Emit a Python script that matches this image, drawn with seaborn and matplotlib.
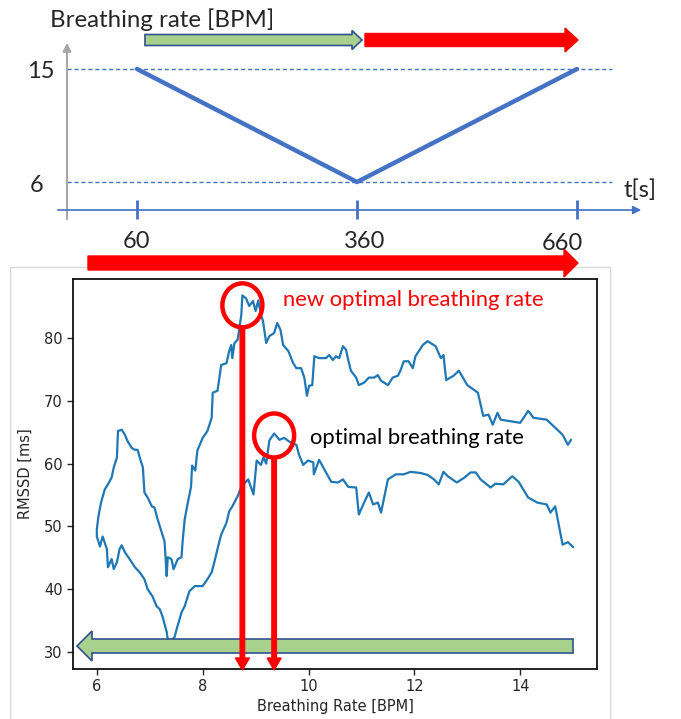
import numpy as np
import pandas as pd
import matplotlib.pyplot as plt
import seaborn as sns
from matplotlib.patches import Ellipse, FancyArrow, Rectangle

# breathing protocol (top sketch)
protocol_t = [60, 360, 660]
protocol_bpm = [15, 6, 15]
protocol_labels = ['60', '360', '660']

# RMSSD during first ramp 15 -> 6 BPM (time order)
ramp1_bpm = [15.0, 14.9, 14.8, 14.66, 14.57, 14.5, 14.32, 14.15, 13.97, 13.85,
             13.68, 13.53, 13.44, 13.25, 13.16, 13.06, 12.95, 12.8, 12.63, 12.55,
             12.46, 12.37, 12.25, 12.12, 11.93, 11.8, 11.65, 11.5, 11.37, 11.31,
             11.22, 11.14, 11.05, 10.95, 10.9, 10.75, 10.65, 10.56, 10.43, 10.33,
             10.2, 10.1, 10.09, 9.99, 9.9, 9.82, 9.77, 9.67, 9.54, 9.45,
             9.35, 9.26, 9.2, 9.15, 9.1, 9.02, 8.96, 8.86, 8.73, 8.66,
             8.56, 8.5, 8.45, 8.35, 8.28, 8.22, 8.17, 8.09, 8.0, 7.85,
             7.75, 7.66, 7.6, 7.51, 7.47, 7.4, 7.34, 7.32, 7.24, 7.19,
             7.13, 7.05, 6.96, 6.9, 6.81, 6.72, 6.62, 6.53, 6.47, 6.43,
             6.38, 6.32, 6.28, 6.21, 6.19, 6.11, 6.06, 6.0]
ramp1_rmssd = [46.7, 47.5, 47.1, 53.2, 52.2, 53.5, 53.8, 54.6, 57.1, 58.0,
               56.7, 56.8, 56.2, 57.5, 58.6, 58.6, 57.8, 57.0, 58.0, 58.7,
               56.7, 57.5, 58.2, 58.5, 58.7, 58.3, 58.3, 57.5, 52.2, 53.8,
               53.5, 55.4, 53.8, 51.9, 56.2, 56.3, 57.5, 57.0, 57.1, 58.6,
               60.6, 58.3, 60.2, 60.5, 59.8, 61.4, 63.0, 63.3, 64.1, 63.8,
               64.8, 63.7, 60.0, 61.0, 59.8, 60.5, 55.1, 57.5, 56.3, 54.8,
               53.2, 52.4, 50.6, 48.7, 46.4, 44.3, 42.7, 41.6, 40.5, 40.5,
               39.7, 37.3, 36.3, 33.7, 32.4, 31.8, 32.0, 33.2, 35.7, 36.8,
               37.3, 38.9, 40.0, 41.6, 42.7, 43.5, 44.8, 45.9, 47.0, 46.4,
               44.3, 43.2, 44.8, 43.5, 46.4, 48.4, 46.8, 48.4]

# RMSSD during second ramp 6 -> 15 BPM
ramp2_bpm = [6.0, 6.03, 6.08, 6.15, 6.21, 6.28, 6.32, 6.38, 6.4, 6.47,
             6.53, 6.58, 6.66, 6.72, 6.77, 6.81, 6.87, 6.9, 6.96, 7.04,
             7.09, 7.15, 7.22, 7.28, 7.32, 7.34, 7.41, 7.45, 7.53, 7.6,
             7.62, 7.66, 7.72, 7.78, 7.8, 7.86, 7.9, 8.0, 8.09, 8.17,
             8.19, 8.28, 8.35, 8.45, 8.5, 8.54, 8.56, 8.6, 8.66, 8.73,
             8.75, 8.82, 8.88, 8.95, 9.0, 9.05, 9.1, 9.14, 9.2, 9.26,
             9.35, 9.41, 9.47, 9.52, 9.62, 9.71, 9.77, 9.86, 9.92, 9.97,
             10.01, 10.07, 10.11, 10.2, 10.33, 10.39, 10.46, 10.52, 10.58, 10.65,
             10.71, 10.75, 10.8, 10.9, 10.95, 11.05, 11.14, 11.24, 11.31, 11.37,
             11.5, 11.59, 11.69, 11.74, 11.8, 11.89, 11.97, 12.02, 12.16, 12.25,
             12.4, 12.5, 12.55, 12.6, 12.74, 12.84, 13.0, 13.2, 13.3, 13.4,
             13.48, 13.57, 13.63, 14.0, 14.15, 14.25, 14.5, 14.7, 14.8, 14.9,
             14.96]
ramp2_rmssd = [49.5, 51.6, 53.8, 55.9, 56.7, 57.8, 59.4, 61.0, 65.2, 65.4,
               64.6, 63.6, 62.5, 62.2, 62.2, 61.0, 59.4, 55.4, 54.6, 53.2,
               53.0, 51.1, 49.2, 47.6, 42.1, 45.1, 44.8, 43.2, 44.8, 45.1,
               47.5, 51.1, 53.8, 56.3, 59.7, 58.9, 62.1, 64.1, 65.2, 67.3,
               71.3, 71.6, 75.7, 76.0, 77.9, 78.9, 76.8, 79.2, 79.7, 83.7,
               86.8, 86.3, 85.1, 85.9, 84.3, 86.0, 83.7, 82.7, 79.2, 80.3,
               80.8, 82.4, 81.3, 78.9, 77.9, 76.0, 75.2, 75.2, 73.7, 70.8,
               72.4, 72.5, 77.1, 76.8, 76.8, 77.3, 76.5, 77.1, 76.8, 78.7,
               78.1, 76.5, 74.8, 73.7, 72.5, 72.9, 73.7, 73.7, 74.1, 73.2,
               72.5, 73.7, 74.0, 74.9, 76.3, 76.3, 75.2, 77.1, 78.9, 79.5,
               78.7, 76.8, 77.3, 73.3, 74.0, 74.8, 72.5, 71.3, 67.6, 67.8,
               66.2, 68.1, 67.0, 66.5, 68.4, 67.3, 67.0, 65.4, 64.6, 63.0,
               63.8]

W, H = 681, 719
BLUE = '#4472C4'
RED = '#FF0000'
GREEN = '#A9D18E'
NAVY = '#2F528F'

sns.set_style('ticks')
plt.rcParams['font.family'] = ['DejaVu Sans']
sketch_font = ['Lato', 'DejaVu Sans']

fig = plt.figure(figsize=(W / 100, H / 100), dpi=100)


def rect(x0, y0, x1, y1):
    # pixel box, origin top-left -> figure fraction
    return [x0 / W, 1 - y1 / H, (x1 - x0) / W, (y1 - y0) / H]


def to_px(a, x, y):
    dx, dy = a.transData.transform((x, y))
    return dx, H - dy


# ---- top sketch: breathing rate vs time
t_of = lambda px: 60 + (px - 137) * 600 / 440
b_of = lambda py: 15 - (py - 69) * 9 / 113
top = fig.add_axes(rect(0, 0, W, 260))
top.set_xlim(t_of(0), t_of(W))
top.set_ylim(b_of(260), b_of(0))
top.axis('off')
top.hlines([15, 6], t_of(67), t_of(612), colors=BLUE, lw=1, linestyles=(0, (3, 2)))
sns.lineplot(x=protocol_t, y=protocol_bpm, color=BLUE, lw=3.2, ax=top,
             sort=False, estimator=None)
top.vlines(protocol_t, b_of(219), b_of(200), colors=BLUE, lw=2)

# ---- bottom: RMSSD vs breathing rate
ax = fig.add_axes(rect(73, 279, 597, 669))
df = pd.DataFrame({'bpm': ramp1_bpm + ramp2_bpm,
                   'rmssd': ramp1_rmssd + ramp2_rmssd})
sns.lineplot(data=df, x='bpm', y='rmssd', sort=False, estimator=None,
             color='#1f77b4', lw=1.6, ax=ax)
ax.set_xlim(5.55, 15.45)
ax.set_ylim(27.3, 89.4)
ax.set_xticks([6, 8, 10, 12, 14])
ax.set_yticks([30, 40, 50, 60, 70, 80])
ax.set_xlabel('Breathing Rate [BPM]', fontsize=10.5, color='#262626', labelpad=3)
ax.set_ylabel('RMSSD [ms]', fontsize=10.5, color='#262626', labelpad=8)
ax.tick_params(labelsize=10.5, length=4, width=1, colors='#262626')
for s in ax.spines.values():
    s.set_color('#111111')
    s.set_linewidth(1.3)

# ---- overlay for the drawn annotations (pixel space)
ov = fig.add_axes([0, 0, 1, 1], zorder=5)
ov.set_xlim(0, W)
ov.set_ylim(H, 0)
ov.axis('off')
ov.patch.set_visible(False)

ov.add_patch(Rectangle((10, 267), 600, 460, fill=False, ec='#D9D9D9', lw=1))

# sketch axes
ov.annotate('', xy=(67, 40), xytext=(67, 222),
            arrowprops=dict(arrowstyle='-|>', color='#A6A6A6', lw=1.5, mutation_scale=12))
ov.annotate('', xy=(644, 210), xytext=(55, 210),
            arrowprops=dict(arrowstyle='-|>', color=BLUE, lw=1.2, mutation_scale=12))
ov.text(50, 20, 'Breathing rate [BPM]', family=sketch_font, fontsize=17.3,
        va='center', ha='left')
ov.text(41, 72, '15', family=sketch_font, fontsize=17, va='center', ha='center')
ov.text(37, 185, '6', family=sketch_font, fontsize=17, va='center', ha='center')
ov.text(640, 190, 't[s]', family=sketch_font, fontsize=17, va='center', ha='center')
for t, lab, dx, y in zip(protocol_t, protocol_labels, [0, 8, -15], [241, 241, 243]):
    x, _ = to_px(top, t, 6)
    ov.text(x + dx, y, lab, family=sketch_font, fontsize=17, va='center', ha='center')

# phase arrows
ov.add_patch(FancyArrow(145, 40, 217, 0, width=11, head_width=19, head_length=10,
                        length_includes_head=True, fc=GREEN, ec=NAVY, lw=1.2))
ov.add_patch(FancyArrow(365, 40, 213, 0, width=13, head_width=24, head_length=13,
                        length_includes_head=True, color=RED))
ov.add_patch(FancyArrow(88, 263, 490, 0, width=14, head_width=28, head_length=14,
                        length_includes_head=True, color=RED))
ov.add_patch(FancyArrow(573, 646, -496, 0, width=14, head_width=30, head_length=15,
                        length_includes_head=True, fc=GREEN, ec=NAVY, lw=1.2))

# optimal breathing rates: peaks of each ramp
peaks = []
for bpm, rm, dy in [(ramp2_bpm, ramp2_rmssd, 10), (ramp1_bpm, ramp1_rmssd, 2)]:
    i = int(np.argmax(rm))
    cx, cy = to_px(ax, bpm[i], rm[i])
    peaks.append((cx, cy + dy))
for cx, cy in peaks:
    ov.add_patch(Ellipse((cx, cy), 40, 44, fill=False, ec=RED, lw=3.2))
    ov.add_patch(FancyArrow(cx, cy + 22, 0, 670 - (cy + 22), width=4.5, head_width=14,
                            head_length=12, length_includes_head=True, color=RED))

ov.text(283, 300, 'new optimal breathing rate', family=sketch_font, fontsize=15.8,
        color=RED, va='center', ha='left')
ov.text(310, 438, 'optimal breathing rate', family=sketch_font, fontsize=15.8,
        color='black', va='center', ha='left')

fig.savefig('out.png', dpi=100)
